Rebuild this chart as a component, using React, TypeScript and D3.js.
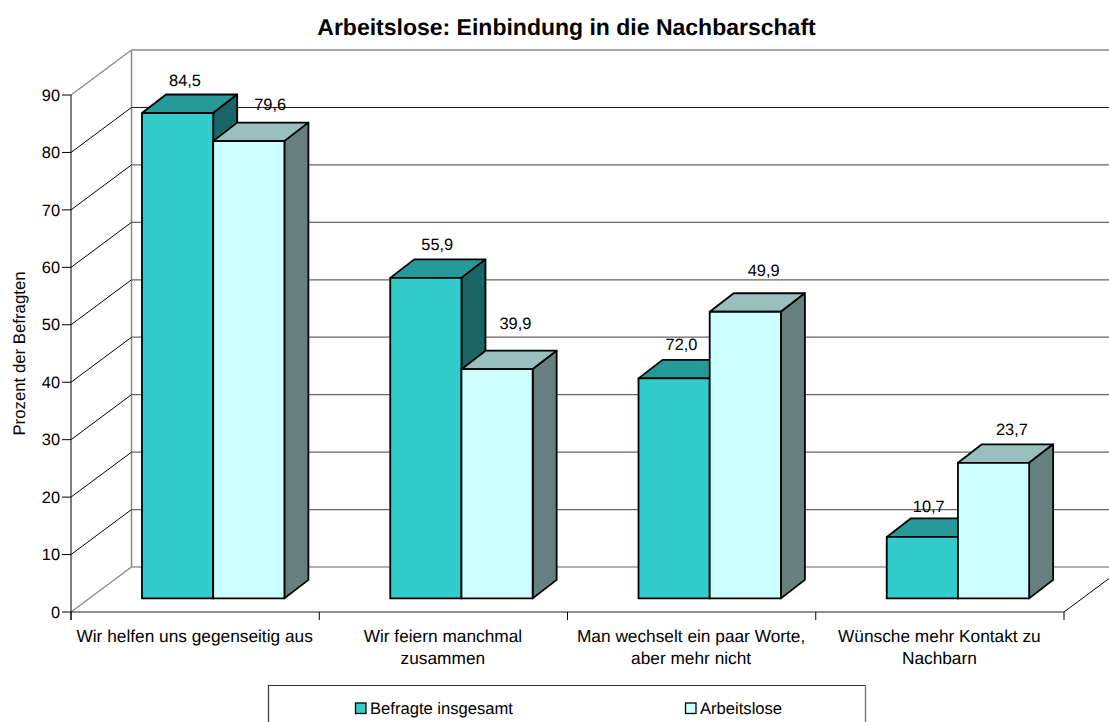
import React from "react";
import * as d3 from "d3";

const categories = [
  ["Wir helfen uns gegenseitig aus"],
  ["Wir feiern manchmal", "zusammen"],
  ["Man wechselt ein paar Worte,", "aber mehr nicht"],
  ["Wünsche mehr Kontakt zu", "Nachbarn"],
];
const seriesNames = ["Befragte insgesamt", "Arbeitslose"];
const totalValues = [84.5, 55.8, 38.3, 10.7];
const unemployedValues = [79.6, 39.9, 49.9, 23.6];
const totalLabels = ["84,5", "55,9", "72,0", "10,7"];
const unemployedLabels = ["79,6", "39,9", "49,9", "23,7"];
const yTicks = d3.range(0, 100, 10);

const FONT = "'Liberation Sans', Arial, sans-serif";
const x0 = 71, x1 = 1064, y0 = 612, y90 = 95;
const wallDx = 60.5, wallDy = -45;
const barFloorDx = 18.5, barFloorDy = -13.6;
const barDepthDx = 24, barDepthDy = -18.5;

const y = d3.scaleLinear().domain([0, 90]).range([y0, y90]);
const x = d3.scaleBand<number>().domain([0, 1, 2, 3]).range([x0, x1]);
const palettes = [
  { front: "#33CCCC", top: "#269999", side: "#1A6666" },
  { front: "#CCFFFF", top: "#99BFBF", side: "#667F7F" },
];
const legendSwatchX = [355, 685];
// label nudges from the bar's front-left corner / back top edge
const labelNudge = [
  [[43, -14], [57, -18]],
  [[47, -15], [54, -27]],
  [[43, -15], [54, -23]],
  [[42, -12], [54, -15]],
];

function Bar({ group, s, value }: { group: number; s: number; value: number }) {
  const bw = 71.2;
  const left = (x(group) as number) + 52.5 + barFloorDx + s * bw;
  const bottom = y(0) + barFloorDy;
  const top = bottom - (y(0) - y(value));
  const right = left + bw;
  const c = palettes[s];
  const pts = (a: number[][]) => a.map((p) => p.join(",")).join(" ");
  const common = { stroke: "#000", strokeWidth: 1.8, strokeLinejoin: "round" as const };
  return (
    <g>
      <polygon points={pts([[left, top], [left + barDepthDx, top + barDepthDy], [right + barDepthDx, top + barDepthDy], [right, top]])} fill={c.top} {...common} />
      <polygon points={pts([[right, top], [right + barDepthDx, top + barDepthDy], [right + barDepthDx, bottom + barDepthDy], [right, bottom]])} fill={c.side} {...common} />
      <rect x={left} y={top} width={bw} height={bottom - top} fill={c.front} {...common} />
    </g>
  );
}

export default function App() {
  const series = [totalValues, unemployedValues];
  const labels = [totalLabels, unemployedLabels];
  return (
    <svg width={1109} height={722} viewBox="0 0 1109 722" style={{ position: "absolute", left: 0, top: 0, background: "#fff" }} fontFamily={FONT} textRendering="geometricPrecision">
      <text x={566.5} y={34.5} textAnchor="middle" fontSize={23} fontWeight="bold" fill="#000">
        Arbeitslose: Einbindung in die Nachbarschaft
      </text>

      {/* back wall grid */}
      {yTicks.slice(1, -1).map((t) => (
        <line key={t} x1={x0 + wallDx} x2={1109} y1={y(t) + wallDy} y2={y(t) + wallDy} stroke={t === 80 ? "#111" : "#666"} strokeWidth={t === 80 ? 1 : 1.3} />
      ))}
      <line x1={x0 + wallDx} x2={1109} y1={y(0) + wallDy} y2={y(0) + wallDy} stroke="#999" strokeWidth={1.5} />
      <line x1={x0 + wallDx} x2={1109} y1={y(90) + wallDy} y2={y(90) + wallDy} stroke="#888" strokeWidth={1.5} />
      <line x1={x0 + wallDx} x2={x0 + wallDx} y1={y(0) + wallDy} y2={y(90) + wallDy} stroke="#888" strokeWidth={1.5} />

      {/* side wall diagonals */}
      {yTicks.map((t) => (
        <line key={t} x1={x0} y1={y(t)} x2={x0 + wallDx} y2={y(t) + wallDy} stroke={t === 0 || t === 90 ? "#888" : "#000"} strokeWidth={t === 0 || t === 90 ? 1.3 : 1} />
      ))}
      <line x1={x1} y1={y0} x2={x1 + wallDx} y2={y0 + wallDy} stroke="#000" strokeWidth={1} />

      {/* axes */}
      <line x1={x0} x2={x0} y1={y(90)} y2={y0 + 8} stroke="#000" strokeWidth={1} />
      <line x1={x0} x2={x1} y1={y0} y2={y0} stroke="#222" strokeWidth={1.2} />
      {yTicks.map((t) => (
        <g key={t}>
          <line x1={x0 - 9} x2={x0} y1={y(t)} y2={y(t)} stroke="#000" strokeWidth={1} />
          <text x={x0 - 11} y={y(t) + 5.7} textAnchor="end" fontSize={16.4} fill="#000">{t}</text>
        </g>
      ))}
      {[0, 1, 2, 3].map((i) => (
        <line key={i} x1={x(i) as number} x2={x(i) as number} y1={y0} y2={y0 + 8} stroke="#000" strokeWidth={1} />
      ))}
      <line x1={x1} x2={x1} y1={y0} y2={y0 + 8} stroke="#000" strokeWidth={1} />

      {/* bars */}
      {categories.map((_, g) => (
        <g key={g}>
          <Bar group={g} s={0} value={series[0][g]} />
          <Bar group={g} s={1} value={series[1][g]} />
        </g>
      ))}

      {/* data labels */}
      {categories.map((_, g) =>
        [0, 1].map((s) => {
          const left = (x(g) as number) + 71 + s * 71.2;
          const topBack = y(series[s][g]) - 14 + barDepthDy;
          return (
            <text key={`${g}-${s}`} x={left + labelNudge[g][s][0]} y={topBack + labelNudge[g][s][1] + 5.7} textAnchor="middle" fontSize={16.4} fill="#000">
              {labels[s][g]}
            </text>
          );
        })
      )}

      {/* category labels */}
      {categories.map((lines, g) => (
        <text key={g} textAnchor="middle" fontSize={17.3} fill="#000">
          {lines.map((l, i) => (
            <tspan key={i} x={(x(g) as number) + x.bandwidth() / 2 - 0.5} y={641.5 + i * 22}>{l}</tspan>
          ))}
        </text>
      ))}

      <text transform="translate(25,353.5) rotate(-90)" textAnchor="middle" fontSize={16.8} fill="#000">Prozent der Befragten</text>

      {/* legend */}
      <path d="M268.5,722V685.5H865.5" fill="none" stroke="#333" strokeWidth={1.2} />
      <path d="M865.5,685.5V722" fill="none" stroke="#777" strokeWidth={1.4} />
      {seriesNames.map((n, i) => {
        const sx = legendSwatchX[i];
        return (
          <g key={n}>
            <rect x={sx + 0.5} y={703} width={10.5} height={10.5} fill={palettes[i].front} stroke="#000" strokeWidth={1.3} />
            <text x={sx + 15} y={714} fontSize={16.6} fill="#000">{n}</text>
          </g>
        );
      })}
    </svg>
  );
}
